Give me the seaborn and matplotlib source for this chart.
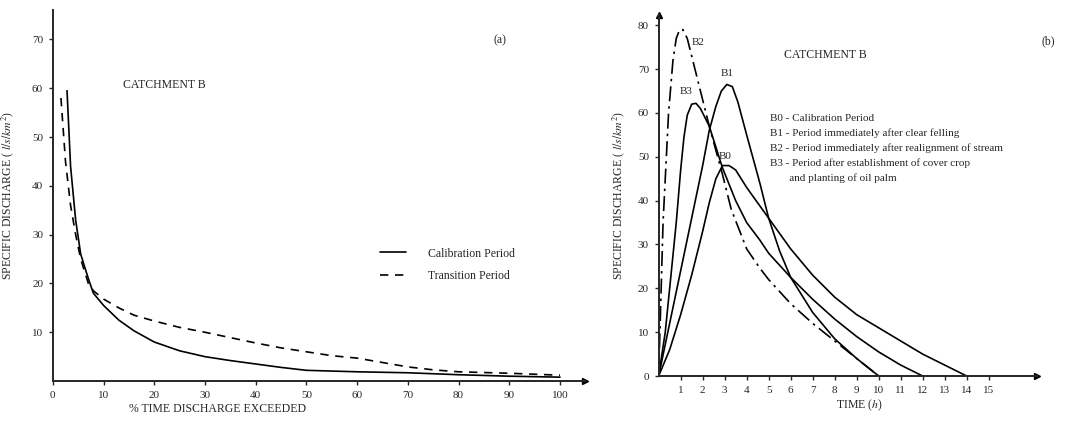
import seaborn as sns
import pandas as pd
import matplotlib.pyplot as plt

# panel (a): flow duration curves
pct_calib = [2.8, 3.5, 4.5, 5.5, 7, 8, 10, 13, 16, 20, 25, 30, 35, 40, 45, 50, 60, 70, 80, 90, 100]
q_calib = [59.5, 44, 33, 26, 21, 18, 15.5, 12.5, 10.3, 8, 6.2, 5, 4.2, 3.5, 2.8, 2.2, 1.9, 1.7, 1.3, 1.0, 0.8]
pct_trans = [1.6, 2.5, 3.5, 4.5, 5.5, 7, 8, 10, 13, 16, 20, 25, 30, 35, 40, 45, 50, 55, 60, 65, 70, 75, 80, 90, 100]
q_trans = [58, 45, 36, 30, 25, 20, 18.5, 16.8, 15, 13.5, 12.3, 11, 10, 8.9, 7.8, 6.8, 6, 5.2, 4.7, 3.8, 2.9, 2.3, 1.9, 1.6, 1.2]

# panel (b): hydrographs
t_b0 = [0, 0.5, 1, 1.5, 2, 2.3, 2.6, 2.9, 3.2, 3.5, 4, 5, 6, 7, 8, 9, 10, 11, 12, 13, 14]
q_b0 = [0, 6, 14, 23, 33, 39.5, 45, 48, 48, 47, 43, 36, 29, 23, 18, 14, 11, 8, 5, 2.5, 0]
t_b1 = [0, 0.5, 1, 1.5, 2, 2.3, 2.6, 2.85, 3.1, 3.35, 3.6, 4, 4.6, 5, 5.5, 6, 7, 8, 9, 10]
q_b1 = [0, 12, 24, 36, 48, 56, 61.5, 65, 66.5, 66, 62.5, 55, 44, 36, 28.5, 22.5, 14.5, 8.5, 4, 0]
t_b2 = [0, 0.2, 0.45, 0.65, 0.8, 0.95, 1.1, 1.3, 1.5, 2, 2.3, 2.9, 3.3, 4, 4.6, 5, 6, 7, 8, 9, 10]
q_b2 = [0, 35, 60, 72, 77, 79, 79, 77, 73, 63, 57, 46, 38, 29, 24.6, 22, 16.5, 12, 8, 4, 0]
t_b3 = [0, 0.3, 0.5, 0.8, 1.0, 1.15, 1.3, 1.5, 1.7, 1.9, 2.3, 2.9, 3.5, 4, 4.6, 5, 6, 7, 8, 9, 10, 11, 12]
q_b3 = [0, 10, 20, 35, 47, 54.5, 59.5, 62, 62.2, 61, 57, 47.5, 40, 35, 31, 28, 22.5, 17.5, 13, 9, 5.5, 2.5, 0]

legend_b = ['B0 - Calibration Period',
            'B1 - Period immediately after clear felling',
            'B2 - Period immediately after realignment of stream',
            'B3 - Period after establishment of cover crop',
            '       and planting of oil palm']

sns.set_style('ticks')
plt.rcParams['font.family'] = ['Liberation Serif', 'DejaVu Serif']
plt.rcParams['mathtext.fontset'] = 'stix'

fig = plt.figure(figsize=(10.78, 4.22), dpi=100)
ax1 = fig.add_axes([0.049, 0.097, 0.494, 0.879])
ax2 = fig.add_axes([0.611, 0.109, 0.351, 0.855])

df_a = pd.concat([
    pd.DataFrame({'pct': pct_calib, 'q': q_calib, 'period': 'Calibration Period'}),
    pd.DataFrame({'pct': pct_trans, 'q': q_trans, 'period': 'Transition Period'}),
])
sns.lineplot(data=df_a, x='pct', y='q', style='period', color='black', lw=1.2,
             dashes={'Calibration Period': '', 'Transition Period': (5, 4)},
             sort=False, estimator=None, ax=ax1)

ax1.set_xlim(0, 105)
ax1.set_ylim(0, 76)
ax1.set_xticks(range(0, 101, 10))
ax1.set_yticks(range(10, 71, 10))
ax1.set_xlabel('% TIME DISCHARGE EXCEEDED', fontsize=8.5)
ax1.xaxis.set_label_coords(0.31, -0.06)
ax1.set_ylabel('SPECIFIC DISCHARGE ( $\\it{l/s/km^2}$)', fontsize=8.5)
ax1.yaxis.set_label_coords(-0.07, 0.5)
ax1.text(0.21, 0.79, 'CATCHMENT B', transform=ax1.transAxes, fontsize=8.5, ha='center')
ax1.text(0.84, 0.91, '(a)', transform=ax1.transAxes, fontsize=8.5, ha='center')
ax1.legend(loc='upper left', bbox_to_anchor=(0.615, 0.36), frameon=False, fontsize=8.5,
           handlelength=2.2, handletextpad=1.8, labelspacing=0.9, borderpad=0, borderaxespad=0)
ax1.plot(1, 0, '>k', ms=4, transform=ax1.get_yaxis_transform(), clip_on=False)

df_b = pd.concat([
    pd.DataFrame({'t': t_b0, 'q': q_b0, 'run': 'B0'}),
    pd.DataFrame({'t': t_b1, 'q': q_b1, 'run': 'B1'}),
    pd.DataFrame({'t': t_b2, 'q': q_b2, 'run': 'B2'}),
    pd.DataFrame({'t': t_b3, 'q': q_b3, 'run': 'B3'}),
])
sns.lineplot(data=df_b, x='t', y='q', style='run', color='black', lw=1.2,
             dashes={'B0': '', 'B1': '', 'B2': (9, 3, 1.5, 3), 'B3': ''},
             sort=False, estimator=None, legend=False, ax=ax2)

ax2.set_xlim(0, 17.2)
ax2.set_ylim(0, 82.3)
ax2.set_xticks(range(1, 16))
ax2.set_yticks(range(0, 81, 10))
ax2.set_xlabel('TIME ($\\it{h}$)', fontsize=8.5)
ax2.xaxis.set_label_coords(0.53, -0.06)
ax2.set_ylabel('SPECIFIC DISCHARGE ( $\\it{l/s/km^2}$)', fontsize=8.5, labelpad=8)
for name, tx, ty in [('B2', 1.8, 75.5), ('B1', 3.1, 68.5), ('B3', 1.25, 64.3), ('B0', 3.0, 49.5)]:
    ax2.text(tx, ty, name, fontsize=8, ha='center')
ax2.text(0.44, 0.88, 'CATCHMENT B', transform=ax2.transAxes, fontsize=8.5, ha='center')
ax2.text(1.03, 0.92, '(b)', transform=ax2.transAxes, fontsize=8.5, ha='center')
for i, line in enumerate(legend_b):
    ax2.text(0.295, 0.715 - i * 0.042, line, transform=ax2.transAxes, fontsize=8, va='center')
ax2.plot(1, 0, '>k', ms=4, transform=ax2.get_yaxis_transform(), clip_on=False)
ax2.plot(0, 1, '^k', ms=4, transform=ax2.get_xaxis_transform(), clip_on=False)

for ax in (ax1, ax2):
    sns.despine(ax=ax)
    ax.spines['left'].set_linewidth(1.4)
    ax.spines['bottom'].set_linewidth(1.4)
    ax.tick_params(labelsize=8, length=3, width=1, pad=4)

fig.savefig('out.png', dpi=100)
